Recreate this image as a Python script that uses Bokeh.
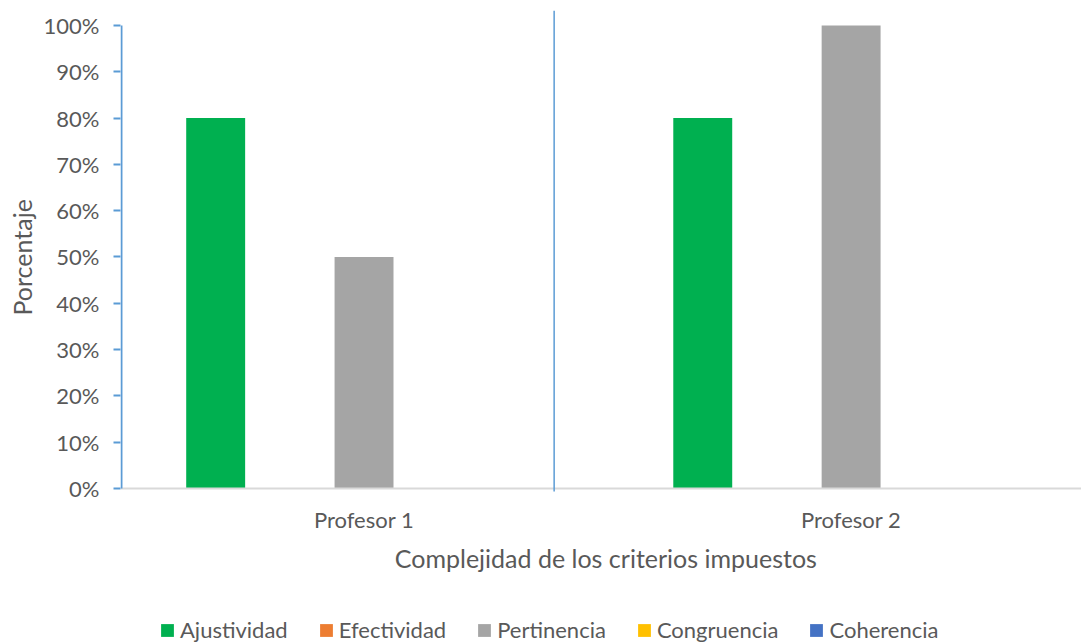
from bokeh.plotting import figure
from bokeh.models import FixedTicker, NumeralTickFormatter, Legend, LegendItem, Title
from bokeh.core.properties import value
from bokeh.embed import file_html
from bokeh.resources import INLINE

categories = ["Profesor 1", "Profesor 2"]
series = ["Ajustividad", "Efectividad", "Pertinencia", "Congruencia", "Coherencia"]
colors = ["#00B050", "#ED7D31", "#A5A5A5", "#FFC000", "#4472C4"]
values = {
    "Ajustividad": [0.80, 0.80],
    "Efectividad": [0.0, 0.0],
    "Pertinencia": [0.50, 1.00],
    "Congruencia": [0.0, 0.0],
    "Coherencia": [0.0, 0.0],
}
y_ticks = [0.0, 0.1, 0.2, 0.3, 0.4, 0.5, 0.6, 0.7, 0.8, 0.9, 1.0]
x_title = "Complejidad de los criterios impuestos"
y_title = "Porcentaje"

FONT = "Lato"
FS = "22px"
TFS = "25px"
TXT = "#595959"
AXIS_BLUE = "#5B9BD5"

X_END = 1.973
p = figure(width=1081, height=643, output_backend="svg", toolbar_location=None,
           x_range=(0, X_END), y_range=(-0.3348, 1.0324),
           min_border_left=119, min_border_right=0, min_border_top=10, min_border_bottom=0)
p.outline_line_color = None
p.xgrid.grid_line_color = None
p.ygrid.grid_line_color = None
p.xaxis.visible = False

slot = 0.1523
bw = 0.121
cat_x = [i + 0.5 for i in range(len(categories))]
items = []
for j, (s, c) in enumerate(zip(series, colors)):
    xs = [cx + (j - 2) * slot for cx in cat_x]
    r = p.vbar(x=xs, top=values[s], width=bw, bottom=0, fill_color=c, line_color=None)
    items.append(LegendItem(label=s, renderers=[r]))

# category axis line (gray) and value axis line (blue, 0..100%)
p.segment(x0=[0], y0=[0], x1=[X_END], y1=[0], line_color="#D9D9D9", line_width=2)
p.segment(x0=[0.002], y0=[0], x1=[0.002], y1=[1.0], line_color=AXIS_BLUE, line_width=2)
# vertical separator line
p.segment(x0=[0.8903], y0=[-0.0065], x1=[0.8903], y1=[1.0324], line_color=AXIS_BLUE, line_width=1.5)

# category labels and x title
p.text(x=cat_x, y=[-0.067] * len(cat_x), text=categories, text_font=value(FONT),
       text_font_size=FS, text_color=TXT, text_align="center", text_baseline="middle")
p.text(x=[X_END / 2 + 0.01], y=[-0.151], text=[x_title], text_font=value(FONT),
       text_font_size=TFS, text_color=TXT, text_align="center", text_baseline="middle")

ya = p.yaxis[0]
ya.ticker = FixedTicker(ticks=y_ticks)
ya.formatter = NumeralTickFormatter(format="0%")
ya.axis_line_color = None
ya.major_tick_line_color = AXIS_BLUE
ya.major_tick_line_width = 2
ya.major_tick_out = 7
ya.major_tick_in = 0
ya.minor_tick_line_color = None
ya.major_label_standoff = 14
ya.major_label_text_font = FONT
ya.major_label_text_font_size = FS
ya.major_label_text_color = TXT

ytitle = Title(text=y_title, align="left", offset=328, text_font=FONT, text_font_size=TFS,
               text_color=TXT, text_font_style="normal", standoff=8)
p.add_layout(ytitle, "left")

legend = Legend(items=items, orientation="horizontal", location=(39, 0),
                label_text_font=FONT, label_text_font_size=FS, label_text_color=TXT,
                glyph_width=16, glyph_height=16, label_standoff=5, spacing=30,
                border_line_color=None, background_fill_alpha=0, padding=0, margin=0)
p.add_layout(legend, "center")

open("out.html", "w").write(file_html(p, INLINE))
